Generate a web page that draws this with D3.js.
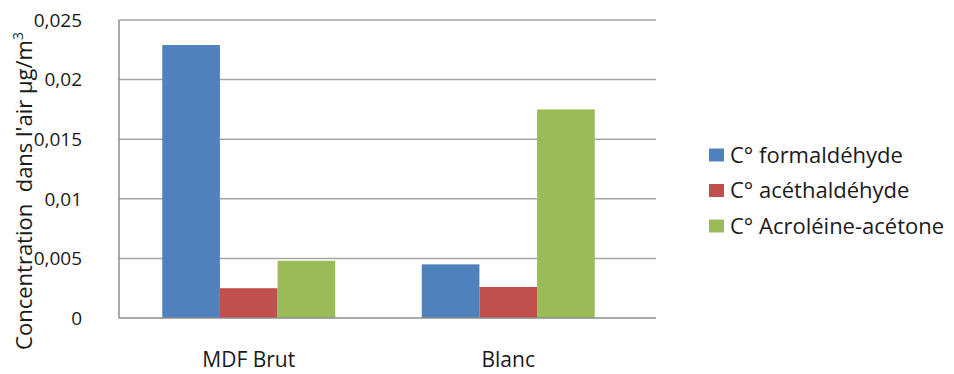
<!DOCTYPE html>
<html>
<head>
<meta charset="utf-8">
<script src="https://cdn.jsdelivr.net/npm/d3@7"></script>
<style>
  html, body { margin: 0; padding: 0; background: #fff; }
  svg { display: block; font-family: "Open Sans", sans-serif; }
</style>
</head>
<body>
<script>
const categories = ["MDF Brut", "Blanc"];
const seriesNames = ["C° formaldéhyde", "C° acéthaldéhyde", "C° Acroléine-acétone"];
const formaldehyde = [0.0229, 0.0045];
const acethaldehyde = [0.0025, 0.0026];
const acroleine = [0.0048, 0.0175];
const tickValues = [0, 0.005, 0.01, 0.015, 0.02, 0.025];
const tickLabels = ["0", "0,005", "0,01", "0,015", "0,02", "0,025"];
const colors = ["#4F81BD", "#C0504D", "#9BBB59"];

const W = 954, H = 374;
const plotLeft = 119, plotRight = 656, plotTop = 20, plotBottom = 318;
const series = [formaldehyde, acethaldehyde, acroleine];
const textColor = "#1a1a1a";

const svg = d3.select("body").append("svg").attr("width", W).attr("height", H);

const y = d3.scaleLinear().domain([0, 0.025]).range([plotBottom, plotTop]);
const x0 = d3.scaleBand().domain(categories).range([plotLeft, 638]).paddingInner(0).paddingOuter(0);
const x1 = d3.scaleBand().domain(d3.range(series.length)).range([0, x0.bandwidth()]).paddingInner(0).paddingOuter(0.75);

// gridlines
svg.append("g").selectAll("line").data(tickValues.filter(v => v > 0)).join("line")
  .attr("x1", plotLeft).attr("x2", plotRight)
  .attr("y1", d => y(d)).attr("y2", d => y(d))
  .attr("stroke", "#a6a6a6").attr("stroke-width", 1.5);

// bars
const groups = svg.append("g").selectAll("g").data(categories).join("g")
  .attr("transform", c => `translate(${x0(c)},0)`);
groups.selectAll("rect").data((c, ci) => series.map((s, si) => ({ si, v: s[ci] }))).join("rect")
  .attr("x", d => x1(d.si))
  .attr("width", x1.bandwidth())
  .attr("y", d => y(d.v))
  .attr("height", d => y(0) - y(d.v))
  .attr("fill", d => colors[d.si]);

// axes lines
svg.append("line").attr("x1", plotLeft).attr("x2", plotLeft).attr("y1", plotTop).attr("y2", plotBottom)
  .attr("stroke", "#8c8c8c").attr("stroke-width", 1.5);
svg.append("line").attr("x1", plotLeft).attr("x2", plotRight).attr("y1", plotBottom).attr("y2", plotBottom)
  .attr("stroke", "#8c8c8c").attr("stroke-width", 1.5);

// y tick labels
svg.append("g").selectAll("text").data(tickValues).join("text")
  .attr("x", 82).attr("y", d => y(d)).attr("dy", "0.36em")
  .attr("text-anchor", "end").attr("font-size", 19).attr("fill", textColor)
  .text((d, i) => tickLabels[i]);

// x labels
svg.append("g").selectAll("text").data(categories).join("text")
  .attr("x", c => x0(c) + x0.bandwidth() / 2).attr("y", 367)
  .attr("text-anchor", "middle").attr("font-size", 21).attr("fill", textColor)
  .text(c => c);

// y title
const yt = svg.append("text").attr("transform", "translate(32,191) rotate(-90)")
  .attr("text-anchor", "middle").attr("font-size", 22).attr("fill", textColor);
yt.append("tspan").text("Concentration\u00a0 dans l'air µg/m");
yt.append("tspan").attr("dy", -9).attr("font-size", 14).text("3");

// legend
const legend = svg.append("g").selectAll("g").data(seriesNames).join("g")
  .attr("transform", (d, i) => `translate(709,${155 + i * 35.5})`);
legend.append("rect").attr("x", 0).attr("y", -6.5).attr("width", 15).attr("height", 13)
  .attr("fill", (d, i) => colors[i]);
legend.append("text").attr("x", 21).attr("y", 0).attr("dy", "0.36em")
  .attr("font-size", 22).attr("fill", textColor).text(d => d);
</script>
</body>
</html>
